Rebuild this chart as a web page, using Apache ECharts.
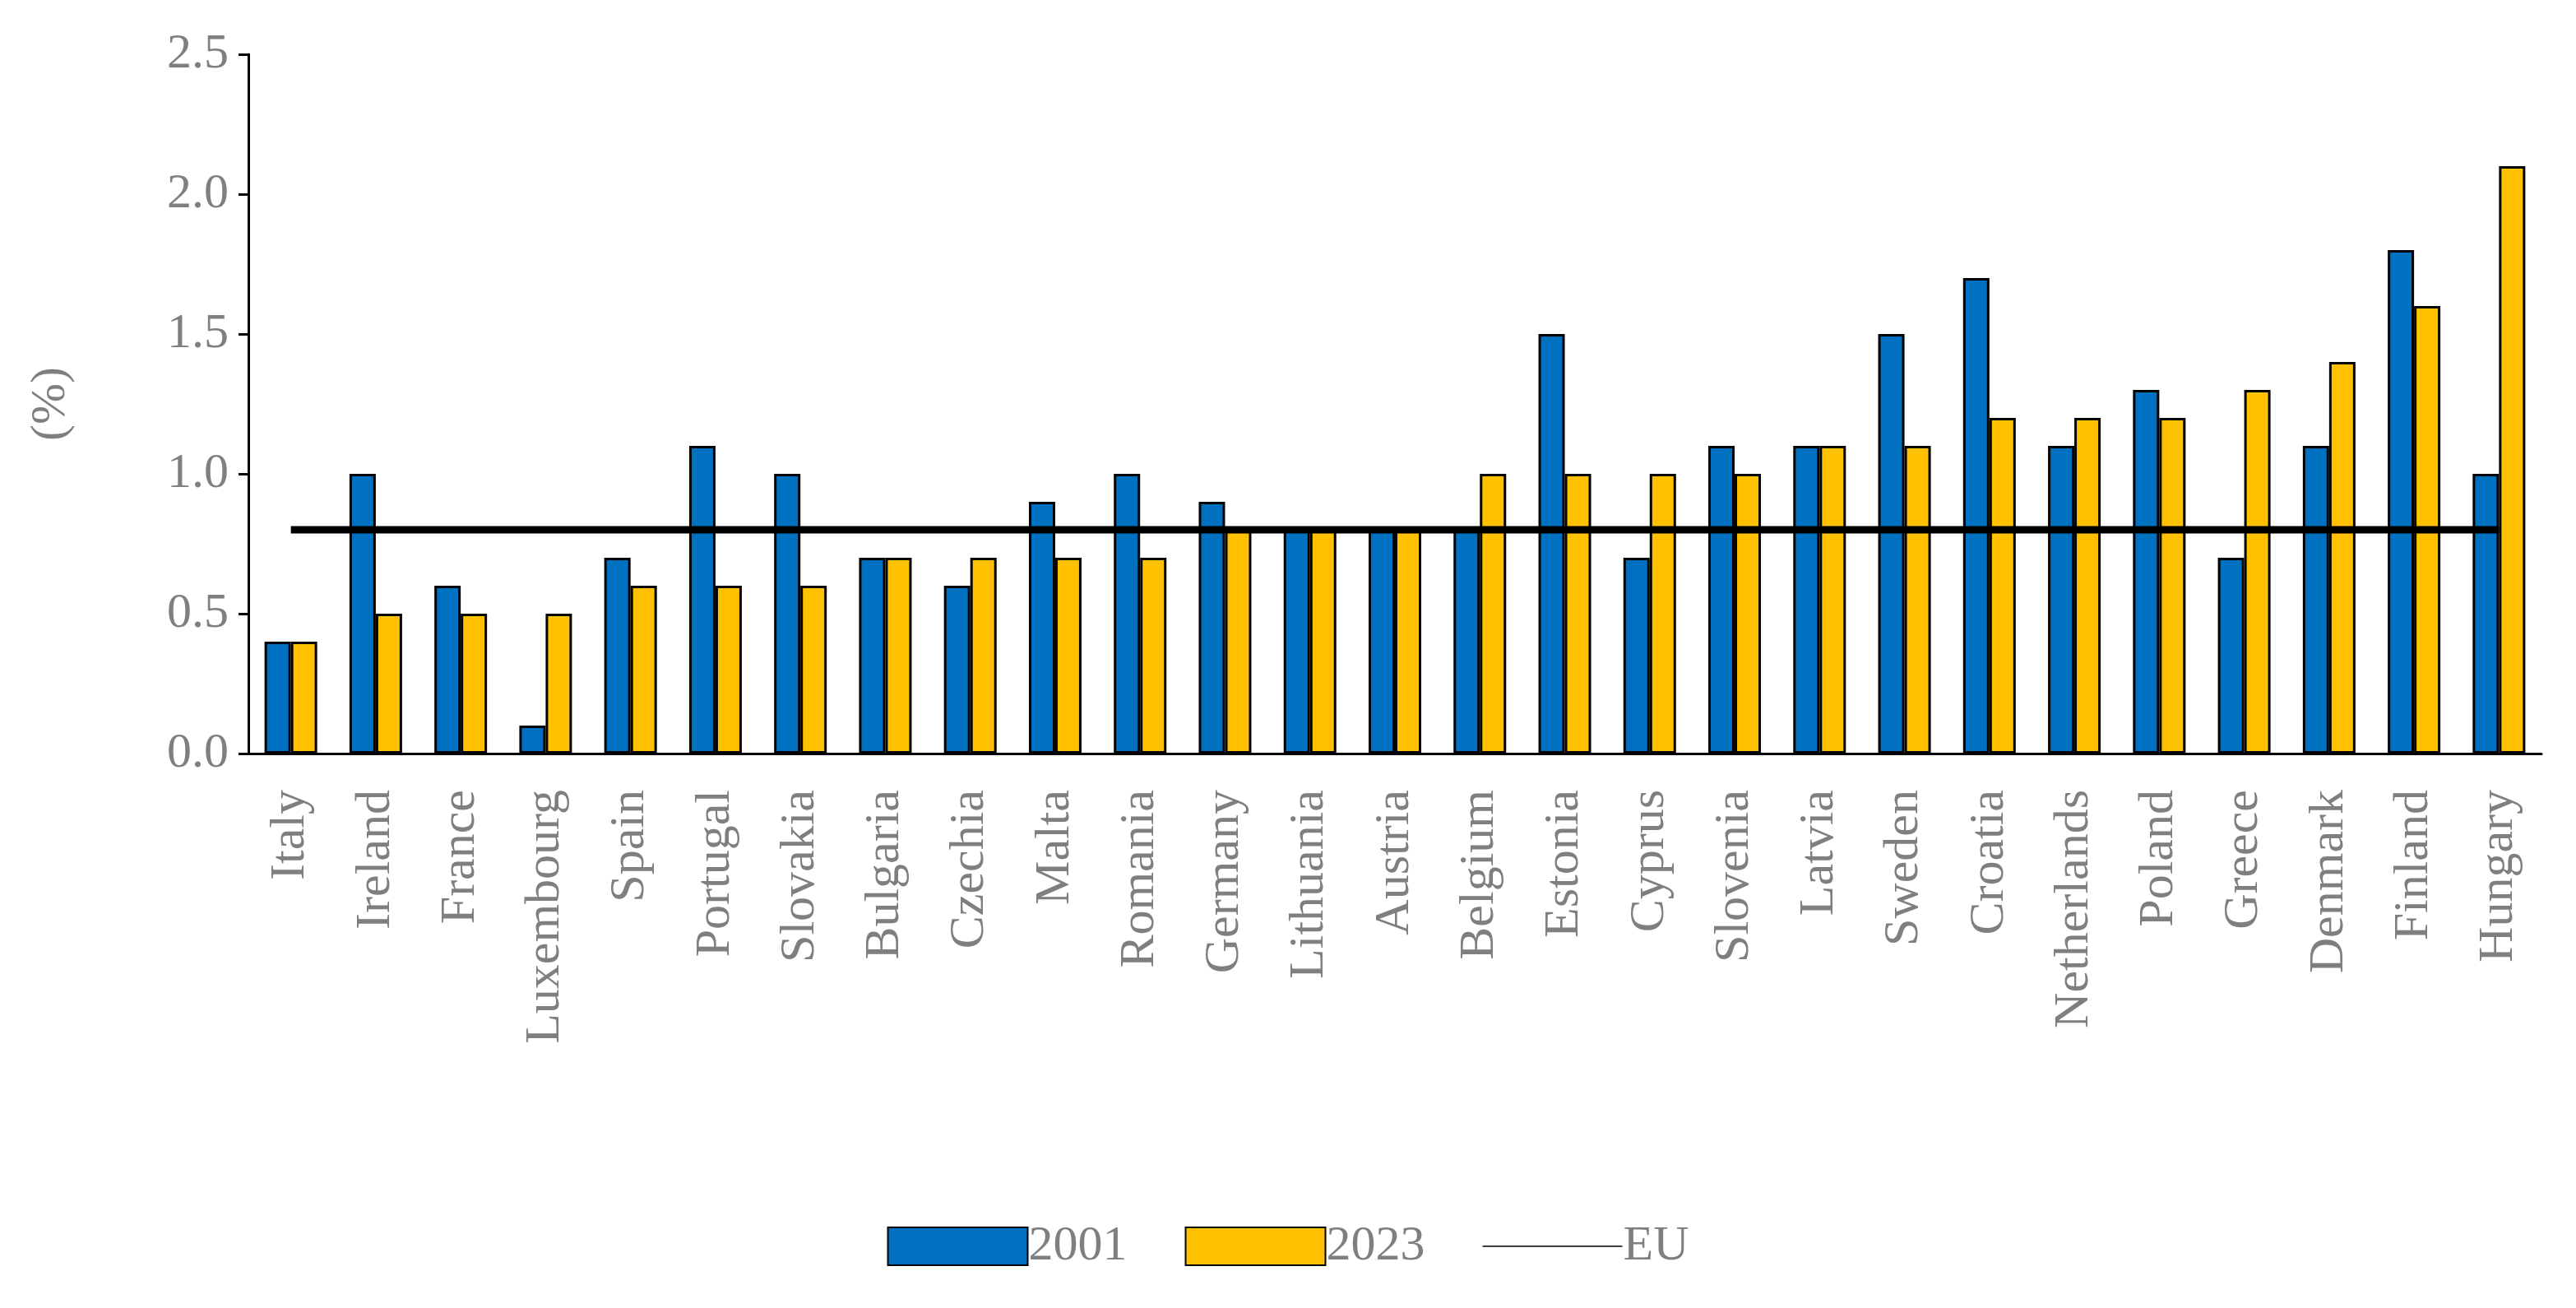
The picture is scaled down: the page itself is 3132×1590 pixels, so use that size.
<!DOCTYPE html>
<html><head><meta charset="utf-8">
<script src="https://cdn.jsdelivr.net/npm/echarts@6/dist/echarts.min.js"></script>
<style>html,body{margin:0;background:#fff}#c{width:3132px;height:1590px}</style>
</head><body><div id="c"></div>
<script>
var countries=['Italy','Ireland','France','Luxembourg','Spain','Portugal','Slovakia','Bulgaria','Czechia','Malta','Romania','Germany','Lithuania','Austria','Belgium','Estonia','Cyprus','Slovenia','Latvia','Sweden','Croatia','Netherlands','Poland','Greece','Denmark','Finland','Hungary'];
var v2001=[0.4,1.0,0.6,0.1,0.7,1.1,1.0,0.7,0.6,0.9,1.0,0.9,0.8,0.8,0.8,1.5,0.7,1.1,1.1,1.5,1.7,1.1,1.3,0.7,1.1,1.8,1.0];
var v2023=[0.4,0.5,0.5,0.5,0.6,0.6,0.6,0.7,0.7,0.7,0.7,0.8,0.8,0.8,1.0,1.0,1.0,1.0,1.1,1.1,1.2,1.2,1.2,1.3,1.4,1.6,2.1];
var euValue=0.8;
var euLine=countries.map(function(){return euValue});
var font='"Liberation Serif","DejaVu Serif",serif';
var grey='#7f7f7f';
var chart=echarts.init(document.getElementById('c'));
chart.setOption({
  animation:false,
  textStyle:{fontFamily:font},
  grid:{left:302,right:42,top:66,bottom:674},
  legend:{bottom:40,left:'center',itemWidth:170,itemHeight:46,itemGap:70,
    textStyle:{fontFamily:font,fontSize:60,color:grey,padding:[0,0,0,-4]},
    data:[{name:'2001',icon:'rect'},{name:'2023',icon:'rect'},
      {name:'EU',icon:'path://M0,0H100V1H0Z',itemStyle:{color:'#000',borderWidth:0}}]},
  xAxis:{type:'category',data:countries,
    axisLine:{lineStyle:{color:'#000',width:3}},axisTick:{show:false},
    axisLabel:{rotate:90,interval:0,fontSize:60,color:grey,fontFamily:font,margin:44}},
  yAxis:{type:'value',min:0,max:2.5,interval:0.5,name:'(%)',nameLocation:'middle',nameGap:210,nameRotate:90,
    nameTextStyle:{fontSize:60,color:grey,fontFamily:font},
    splitLine:{show:false},
    axisLine:{show:true,lineStyle:{color:'#000',width:3}},
    axisTick:{show:true,length:12,lineStyle:{color:'#000',width:3}},
    axisLabel:{fontSize:60,color:grey,fontFamily:font,margin:24,formatter:function(v){return v.toFixed(1)}}},
  series:[
    {name:'2001',type:'bar',data:v2001,barWidth:32,barGap:'0%',itemStyle:{color:'#0070C0',borderColor:'#000',borderWidth:3}},
    {name:'2023',type:'bar',data:v2023,barWidth:32,itemStyle:{color:'#FFC000',borderColor:'#000',borderWidth:3}},
    {name:'EU',type:'line',data:euLine,symbol:'none',z:5,lineStyle:{color:'#000',width:9},itemStyle:{color:'#000'}}
  ]
});
</script></body></html>
